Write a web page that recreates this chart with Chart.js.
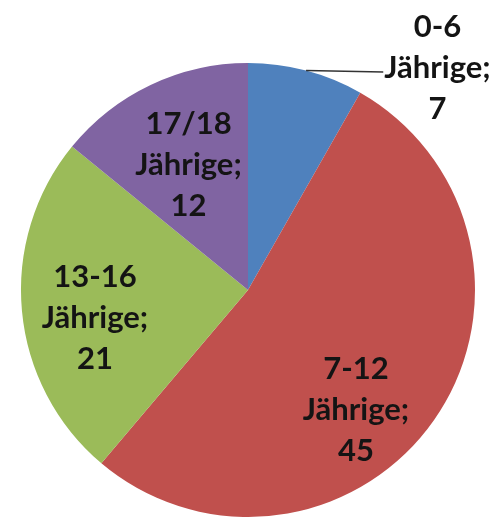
<!DOCTYPE html>
<html>
<head>
<meta charset="utf-8">
<script src="https://cdn.jsdelivr.net/npm/chart.js@4"></script>
<style>
  html, body { margin: 0; padding: 0; background: #fff; }
  #wrap { width: 495px; height: 517px; }
</style>
</head>
<body>
<div id="wrap"><canvas id="myChart" width="495" height="517"></canvas></div>
<script>
// data
const ageGroups = ['0-6', '7-12', '13-16', '17/18'];
const groupSuffix = 'Jährige;';
const counts = [7, 45, 21, 12];
const sliceColors = ['#4F81BD', '#C0504D', '#9BBB59', '#8064A2'];

// where each label sits: fraction of radius + angle shift (deg) from the slice middle
const labelPlace = [
	{ outside: true, r: 1.13, shift: 17 },
	{ r: 0.71, shift: 13 },
	{ r: 0.685, shift: -5 },
	{ r: 0.61, shift: 0 }
];

const sliceLabels = {
	id: 'sliceLabels',
	afterDatasetsDraw: function (chart) {
		const ctx = chart.ctx;
		const meta = chart.getDatasetMeta(0);
		const lineH = 41;
		ctx.save();
		ctx.font = 'bold 31px Lato';
		ctx.fillStyle = '#141414';
		ctx.textBaseline = 'middle';
		meta.data.forEach(function (arc, i) {
			const p = arc.getProps(['x', 'y', 'startAngle', 'endAngle', 'outerRadius'], true);
			const mid = (p.startAngle + p.endAngle) / 2;
			const place = labelPlace[i];
			const a = mid + place.shift * Math.PI / 180;
			const lines = [ageGroups[i], groupSuffix, String(counts[i])];
			if (place.outside) {
				const sx = p.x + Math.cos(mid) * p.outerRadius;
				const sy = p.y + Math.sin(mid) * p.outerRadius;
				const ex = p.x + Math.cos(a) * p.outerRadius * place.r;
				const ey = p.y + Math.sin(a) * p.outerRadius * place.r;
				ctx.strokeStyle = '#333';
				ctx.lineWidth = 1.5;
				ctx.beginPath();
				ctx.moveTo(sx, sy);
				ctx.lineTo(ex, ey);
				ctx.stroke();
				const w = ctx.measureText(groupSuffix).width;
				const cx = ex + 1 + w / 2;
				ctx.textAlign = 'center';
				lines.forEach(function (t, k) {
					ctx.fillText(t, cx, ey - 4 + (k - 1) * lineH);
				});
			} else {
				const cx = p.x + Math.cos(a) * p.outerRadius * place.r;
				const cy = p.y + Math.sin(a) * p.outerRadius * place.r;
				ctx.textAlign = 'center';
				lines.forEach(function (t, k) {
					ctx.fillText(t, cx, cy + (k - 1) * lineH);
				});
			}
		});
		ctx.restore();
	}
};

new Chart(document.getElementById('myChart'), {
	type: 'pie',
	data: {
		labels: ageGroups.map(function (g) { return g + ' Jährige'; }),
		datasets: [{
			data: counts,
			backgroundColor: sliceColors,
			borderWidth: 0
		}]
	},
	options: {
		responsive: false,
		animation: false,
		layout: { padding: { top: 63, left: 21, right: 20, bottom: 0 } },
		plugins: {
			legend: { display: false },
			tooltip: { enabled: false }
		}
	},
	plugins: [sliceLabels]
});
</script>
</body>
</html>
